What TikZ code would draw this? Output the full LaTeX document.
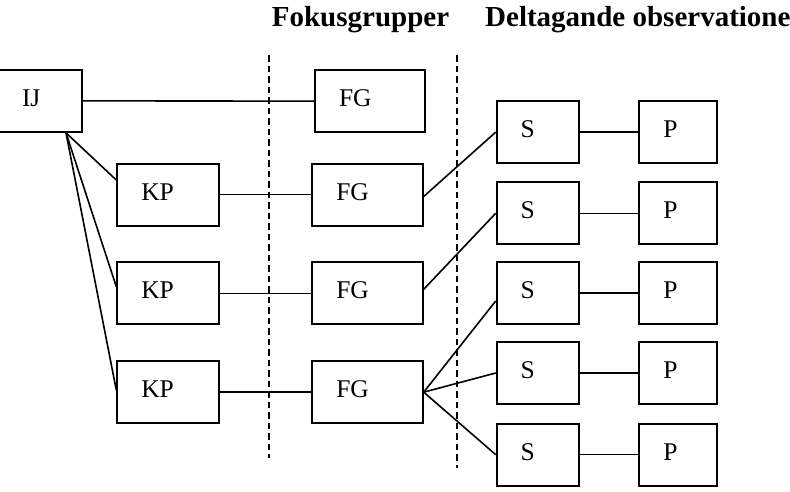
\documentclass[tikz,border=0pt]{standalone}
\usepackage{fontspec}
\setmainfont{Liberation Serif}
\usetikzlibrary{calc}
\begin{document}
\begin{tikzpicture}[x=1pt,y=-1pt,
  box/.style={draw, line width=2pt, minimum height=62pt, inner xsep=24pt, inner ysep=0pt,
    align=left, text height=17pt, text depth=6pt, font=\fontsize{25.5}{30}\selectfont},
  conn/.style={line width=1.6pt},
  sepline/.style={line width=1.8pt, dash pattern=on 6.5pt off 4pt},
  head/.style={anchor=base west, inner sep=0pt, font=\fontsize{29}{34}\selectfont\bfseries}]
\useasboundingbox (0,0) rectangle (790,491);
\clip (0,0) rectangle (790,491);

% headers
\node[head] (h1) at (271.7,26.7) {Fokusgrupper};
\node[head] (h2) at (485,26.7) {Deltagande observationer};

% boxes
\node[box, text width=35.5pt] (IJ) at (39.75,100.85) {IJ};

\node[box, text width=54pt] (KP1) at (168.3,194.5) {KP};
\node[box, text width=54pt] (KP2) at (168.3,293.3) {KP};
\node[box, text width=54pt] (KP3) at (168.3,392.15) {KP};

\node[box, text width=62pt] (FG1) at (370,101.15) {FG};
\node[box, text width=62.4pt] (FG2) at (367.5,194.5) {FG};
\node[box, text width=62.4pt] (FG3) at (367.5,293.3) {FG};
\node[box, text width=62.4pt] (FG4) at (367.5,392.15) {FG};

\node[box, text width=34.6pt] (S1) at (538,132.15) {S};
\node[box, text width=34.6pt] (S2) at (538,213.3) {S};
\node[box, text width=34.6pt] (S3) at (538,293) {S};
\node[box, text width=34.6pt] (S4) at (538,373) {S};
\node[box, text width=34.6pt] (S5) at (538,454.65) {S};

\node[box, text width=29.4pt] (P1) at (678,132.15) {P};
\node[box, text width=29.4pt] (P2) at (678,213.3) {P};
\node[box, text width=29.4pt] (P3) at (678,293) {P};
\node[box, text width=29.4pt] (P4) at (678,373) {P};
\node[box, text width=29.4pt] (P5) at (678,454.65) {P};

% dashed separators
\coordinate (d1t) at (269.3,55);
\coordinate (d1b) at (269.3,458);
\coordinate (d2t) at (457.3,55);
\coordinate (d2b) at (457.3,468);
\draw[sepline] (d1t) -- (d1b);
\draw[sepline] (d2t) -- (d2b);

% connectors
\draw[conn] (IJ.east) -- (FG1.west);
\coordinate (ijfoot) at ($(IJ.south west)+(69,0)$);
\draw[conn] (ijfoot) -- ($(KP1.west)+(0,-14.5)$);
\draw[conn] (ijfoot) -- ($(KP2.west)+(0,-6.6)$);
\draw[conn] (ijfoot) -- ($(KP3.west)+(0,-2)$);

\draw[conn] (KP1.east) -- (FG2.west);
\draw[conn] (KP2.east) -- (FG3.west);
\draw[conn] (KP3.east) -- (FG4.west);

\draw[conn] ($(FG2.east)+(0,2)$) -- (S1.west);
\draw[conn] ($(FG3.east)+(0,-4)$) -- (S2.west);
\draw[conn] (FG4.east) -- ($(S3.west)+(0,8)$);
\draw[conn] (FG4.east) -- (S4.west);
\draw[conn] (FG4.east) -- (S5.west);

\draw[conn] (S1.east) -- (P1.west);
\draw[conn] (S2.east) -- (P2.west);
\draw[conn] (S3.east) -- (P3.west);
\draw[conn] (S4.east) -- (P4.west);
\draw[conn] (S5.east) -- (P5.west);
\end{tikzpicture}
\end{document}
